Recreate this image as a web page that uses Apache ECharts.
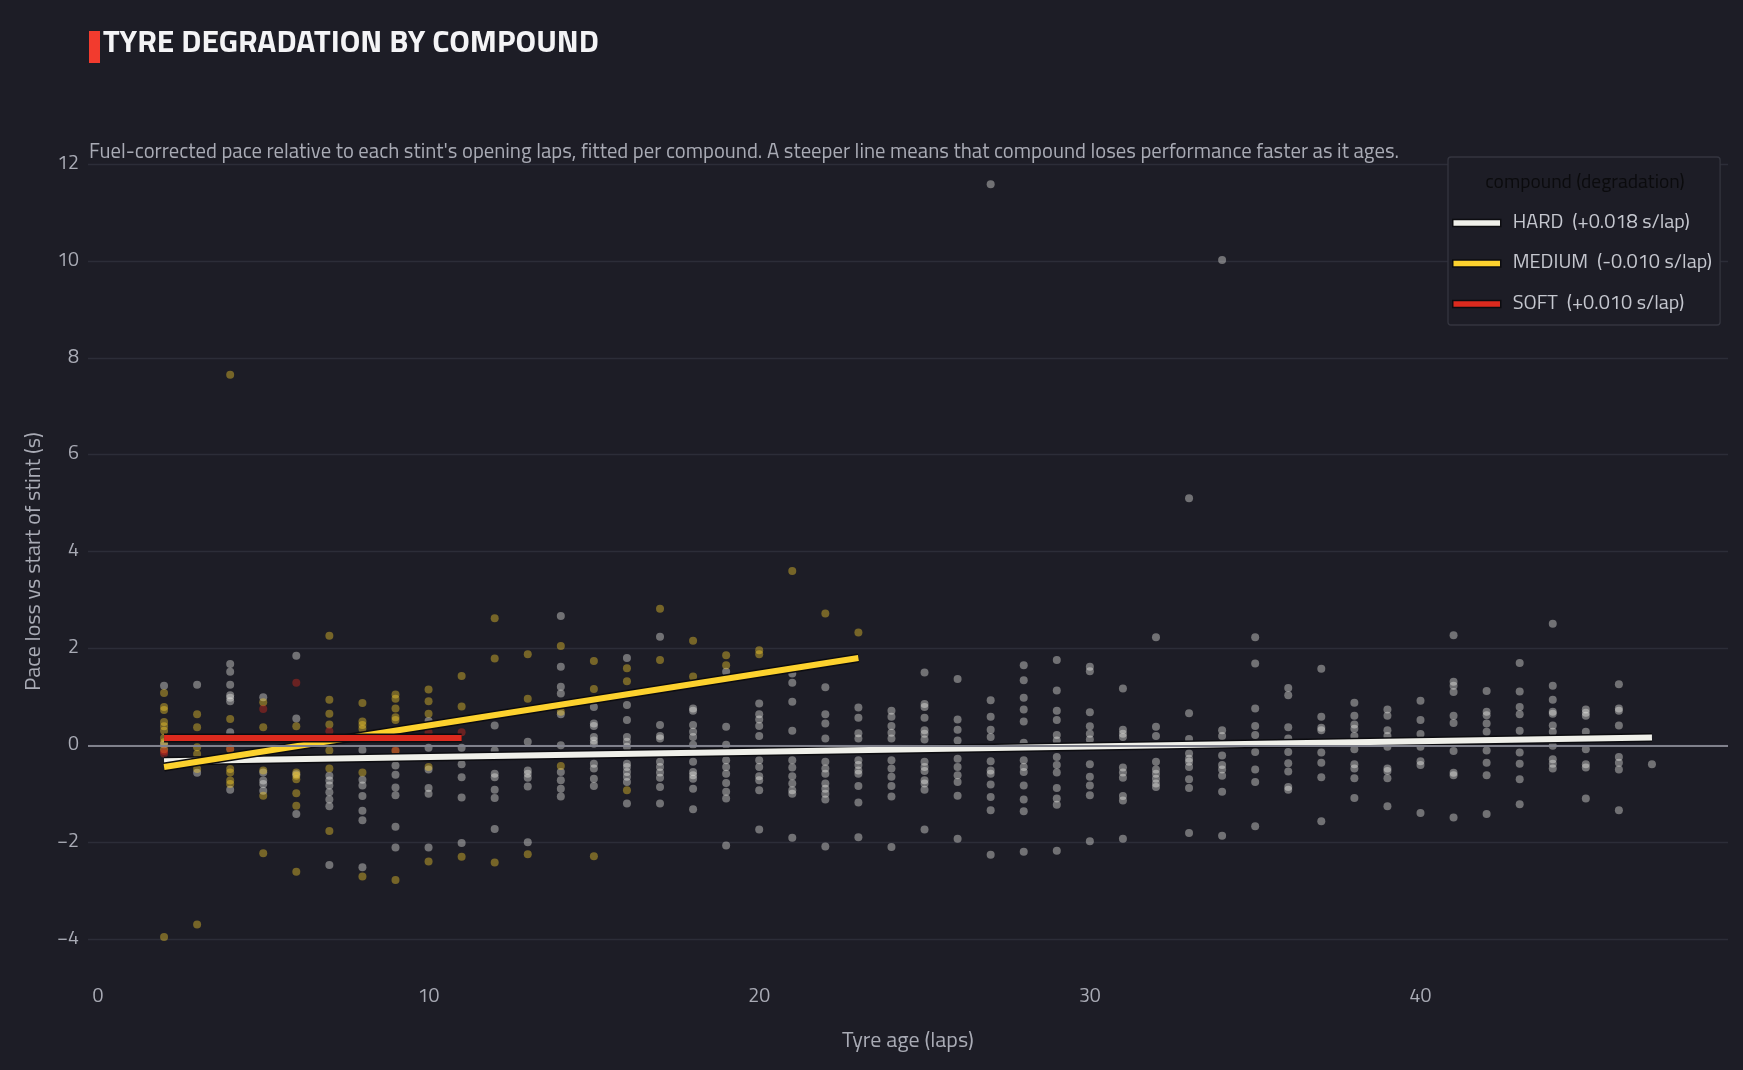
<!DOCTYPE html>
<html>
<head>
<meta charset="utf-8">
<title>Tyre degradation by compound</title>
<script src="https://cdn.jsdelivr.net/npm/echarts@6.0.0/dist/echarts.min.js"></script>
<style>
    html, body { margin: 0; padding: 0; background: #1d1d26; }
    #main { width: 1743px; height: 1070px; }
</style>
</head>
<body>
<div id="main"></div>
<script>
    // compounds + fitted slopes shown in the legend
    var compounds = ['HARD', 'MEDIUM', 'SOFT'];
    var slopeLabels = ['+0.018 s/lap', '-0.010 s/lap', '+0.010 s/lap'];
    var compoundColors = ['#f0f0ea', '#fdd22e', '#dc2a1e'];

    var xTicks = [0, 10, 20, 30, 40];

    // pace loss per tyre age (lap, [values in s])
    var hardPoints = [
        [2, [1.23, 0.02]],
        [3, [1.25, -0.57]],
        [4, [1.68, 1.52, 1.25, 1.03, 0.98, 0.91, 0.27, -0.92]],
        [5, [0.99, -0.56, -0.73, -0.8, -0.94]],
        [6, [1.85, 0.55, -0.6, -1.42]],
        [7, [-0.63, -0.73, -0.83, -0.97, -1.12, -1.26, -2.47]],
        [8, [-0.1, -0.71, -0.83, -1.05, -1.35, -1.55, -2.52]],
        [9, [-0.42, -0.61, -0.87, -1.03, -1.68, -2.11]],
        [10, [0.5, -0.05, -0.5, -0.88, -1.0, -2.11]],
        [11, [-0.05, -0.39, -0.66, -1.08, -2.02]],
        [12, [0.41, -0.11, -0.59, -0.66, -0.92, -1.09, -1.73]],
        [13, [0.07, -0.52, -0.59, -0.67, -0.85, -2.0]],
        [14, [2.67, 1.62, 1.21, 1.07, 0.64, 0, -0.55, -0.72, -0.9, -1.06]],
        [15, [0.79, 0.45, 0.4, 0.17, 0.1, 0.03, -0.38, -0.48, -0.69, -0.84]],
        [16, [1.8, 0.83, 0.52, 0.17, 0.07, -0.03, -0.38, -0.45, -0.55, -0.65, -0.76, -1.2]],
        [17, [2.24, 0.42, 0.19, 0.14, -0.34, -0.45, -0.56, -0.67, -0.86, -1.2]],
        [18, [0.76, 0.71, 0.42, 0.28, 0.17, 0.01, -0.34, -0.55, -0.62, -0.69, -0.9, -1.32]],
        [19, [1.52, 0.38, 0.01, -0.31, -0.45, -0.59, -0.78, -0.96, -1.1, -2.07]],
        [20, [0.86, 0.64, 0.53, 0.4, 0.19, -0.31, -0.45, -0.64, -0.72, -0.93, -1.74]],
        [21, [1.48, 1.29, 0.9, 0.3, -0.31, -0.46, -0.64, -0.79, -0.93, -1.0, -1.91]],
        [22, [1.2, 0.64, 0.45, 0.14, -0.34, -0.48, -0.59, -0.79, -0.9, -1.0, -1.12, -2.09]],
        [23, [0.78, 0.57, 0.25, 0.14, -0.31, -0.41, -0.52, -0.59, -0.84, -1.18, -1.9]],
        [24, [0.71, 0.59, 0.4, 0.26, 0.14, -0.31, -0.48, -0.65, -0.84, -1.06, -2.1]],
        [25, [1.5, 0.85, 0.79, 0.57, 0.31, 0.24, 0.12, -0.34, -0.45, -0.53, -0.72, -0.79, -0.92, -1.74]],
        [26, [1.37, 0.53, 0.32, 0.1, -0.28, -0.45, -0.62, -0.76, -1.04, -1.93]],
        [27, [11.58, 0.93, 0.59, 0.32, 0.17, -0.33, -0.52, -0.59, -0.81, -1.07, -1.34, -2.26]],
        [28, [1.65, 1.34, 0.98, 0.74, 0.49, 0.05, -0.31, -0.45, -0.55, -0.83, -1.12, -1.36, -2.2]],
        [29, [1.76, 1.13, 0.71, 0.52, 0.21, 0.1, -0.24, -0.41, -0.56, -0.88, -1.1, -1.23, -2.18]],
        [30, [1.62, 1.53, 0.68, 0.39, 0.24, 0.12, -0.39, -0.65, -0.83, -1.03, -1.98]],
        [31, [1.17, 0.32, 0.24, 0.17, -0.46, -0.56, -0.67, -1.05, -1.14, -1.93]],
        [32, [2.23, 0.38, 0.19, -0.34, -0.5, -0.59, -0.69, -0.79, -0.86]],
        [33, [5.1, 0.66, 0.13, -0.17, -0.28, -0.34, -0.45, -0.7, -0.88, -1.81]],
        [34, [10.02, 0.31, 0.19, -0.21, -0.41, -0.5, -0.63, -0.96, -1.87]],
        [35, [2.23, 1.69, 0.76, 0.4, 0.21, -0.14, -0.5, -0.76, -1.67]],
        [36, [1.18, 1.03, 0.37, 0.14, -0.14, -0.37, -0.54, -0.86, -0.92]],
        [37, [1.58, 0.59, 0.36, 0.31, -0.15, -0.36, -0.66, -1.57]],
        [38, [0.88, 0.61, 0.43, 0.34, 0.19, -0.08, -0.39, -0.48, -0.68, -1.09]],
        [39, [0.74, 0.61, 0.31, 0.19, -0.03, -0.48, -0.53, -0.68, -1.26]],
        [40, [0.92, 0.52, 0.23, -0.03, -0.33, -0.41, -1.4]],
        [41, [2.27, 1.31, 1.23, 1.1, 0.61, 0.46, -0.12, -0.57, -0.62, -1.49]],
        [42, [1.12, 0.69, 0.62, 0.45, 0.28, -0.11, -0.36, -0.62, -1.42]],
        [43, [1.7, 1.11, 0.79, 0.64, 0.3, -0.15, -0.38, -0.7, -1.22]],
        [44, [2.51, 1.23, 0.94, 0.69, 0.65, 0.41, 0.28, -0.01, -0.29, -0.38, -0.48]],
        [45, [0.74, 0.67, 0.61, 0.28, -0.08, -0.39, -0.46, -1.1]],
        [46, [1.26, 0.76, 0.71, 0.41, -0.24, -0.36, -0.5, -1.34]],
        [47, [-0.39]]
    ];

    var mediumPoints = [
        [2, [1.08, 0.79, 0.73, 0.48, 0.39, 0.3, 0.15, 0.06, -0.08, -3.96]],
        [3, [0.64, 0.37, -0.04, -0.18, -0.49, -3.7]],
        [4, [7.65, 0.54, -0.08, -0.49, -0.56, -0.73, -0.8]],
        [5, [0.89, 0.37, -0.52, -1.04, -2.23]],
        [6, [0.39, -0.56, -0.63, -0.7, -0.99, -1.25, -2.61]],
        [7, [2.26, 0.94, 0.65, 0.43, -0.11, -0.48, -1.77]],
        [8, [0.87, 0.49, 0.42, 0.34, -0.56, -2.71]],
        [9, [1.05, 0.96, 0.76, 0.58, 0.52, -0.12, -2.78]],
        [10, [1.15, 0.91, 0.65, -0.45, -2.4]],
        [11, [1.43, 0.8, -2.3]],
        [12, [2.62, 1.79, -2.42]],
        [13, [1.88, 0.96, -2.25]],
        [14, [2.05, 0.69, -0.43]],
        [15, [1.74, 1.16, -2.29]],
        [16, [1.59, 1.32, -0.93]],
        [17, [2.82, 1.76]],
        [18, [2.16, 1.42]],
        [19, [1.86, 1.65]],
        [20, [1.96, 1.88]],
        [21, [3.6]],
        [22, [2.72]],
        [23, [2.33]]
    ];

    var softPoints = [
        [2, [-0.12, -0.17]],
        [4, [-0.06]],
        [5, [0.75]],
        [6, [1.29, 0.1]],
        [7, [0.29]],
        [9, [-0.1]],
        [10, [0.27]],
        [11, [0.27]]
    ];

    // fitted lines (start / end of each stint range)
    var hardFit = [[2, -0.33], [47, 0.16]];
    var mediumFit = [[2, -0.45], [23, 1.8]];
    var softFit = [[2, 0.15], [11, 0.15]];

    var FONT = '"Titillium Web", "Liberation Sans Narrow", "DejaVu Sans Condensed", Roboto, sans-serif';
    var TEXT = '#a9abb5';

    function flatten(rows) {
        var out = [];
        rows.forEach(function (r) {
            r[1].forEach(function (v) { out.push([r[0], v]); });
        });
        return out;
    }

    function scatter(name, rows, color) {
        return {
            name: name,
            type: 'scatter',
            data: flatten(rows),
            symbolSize: 8,
            clip: false,
            itemStyle: { color: color, opacity: 0.4 },
            z: 2
        };
    }

    function fitLine(name, data, color, z) {
        return [{
            name: name + '_outline',
            type: 'line',
            data: data,
            symbol: 'none',
            silent: true,
            lineStyle: { color: '#0c0c10', width: 9, cap: 'butt' },
            z: z
        }, {
            name: name,
            type: 'line',
            data: data,
            symbol: 'none',
            lineStyle: { color: color, width: 6, cap: 'butt' },
            itemStyle: { color: color, borderColor: '#111', borderWidth: 1 },
            z: z
        }];
    }

    var myChart = echarts.init(document.getElementById('main'));

    var hardScatter = scatter('HARD points', hardPoints, compoundColors[0]);
    // zero line
    hardScatter.markLine = {
        silent: true,
        symbol: 'none',
        label: { show: false },
        lineStyle: { color: '#80818c', width: 2, type: 'solid' },
        data: [{ yAxis: 0 }]
    };

    var series = [
        hardScatter,
        scatter('MEDIUM points', mediumPoints, compoundColors[1]),
        scatter('SOFT points', softPoints, compoundColors[2])
    ]
        .concat(fitLine('HARD', hardFit, compoundColors[0], 3))
        .concat(fitLine('MEDIUM', mediumFit, compoundColors[1], 4))
        .concat(fitLine('SOFT', softFit, compoundColors[2], 5));

    var option = {
        backgroundColor: '#1d1d26',
        animation: false,
        textStyle: { fontFamily: FONT },
        title: [{
            text: 'TYRE DEGRADATION BY COMPOUND',
            left: 98,
            top: 23,
            textStyle: { color: '#f4f4f6', fontSize: 31.6, fontWeight: 'bold', fontFamily: FONT }
        }, {
            text: "Fuel-corrected pace relative to each stint's opening laps, fitted per compound. A steeper line means that compound loses performance faster as it ages.",
            left: 84,
            top: 137,
            textStyle: { color: '#a9abb5', fontSize: 20.7, fontWeight: 'normal', fontFamily: FONT }
        }, {
            text: 'compound (degradation)',
            left: 1580,
            top: 168,
            textAlign: 'center',
            textStyle: { color: '#0b0b0d', fontSize: 19.5, fontWeight: 'normal', fontFamily: FONT }
        }],
        graphic: [{
            type: 'rect',
            shape: { x: 89, y: 31, width: 11, height: 32 },
            style: { fill: '#f23b2e' }
        }],
        legend: {
            data: compounds,
            orient: 'vertical',
            left: 1448,
            top: 157,
            padding: [55, 8, 10, 4],
            itemGap: 18.5,
            itemWidth: 48,
            itemHeight: 7,
            icon: 'rect',
            backgroundColor: '#1d1d26',
            borderColor: '#34353f',
            borderWidth: 1.3,
            borderRadius: 3,
            selectedMode: false,
            itemStyle: { borderColor: '#0c0c10', borderWidth: 1.5 },
            textStyle: { color: '#c5c7cf', fontSize: 20, lineHeight: 22, padding: [0, 0, 0, 7], fontFamily: FONT },
            formatter: function (name) {
                return name + '  (' + slopeLabels[compounds.indexOf(name)] + ')';
            }
        },
        grid: {
            left: 88,
            right: 15,
            top: 164,
            bottom: 131,
            containLabel: false
        },
        xAxis: {
            type: 'value',
            min: -0.3,
            max: 49.3,
            name: 'Tyre age (laps)',
            nameLocation: 'middle',
            nameGap: 92,
            nameTextStyle: { color: TEXT, fontSize: 22, fontFamily: FONT },
            axisLine: { show: false },
            axisTick: { show: false },
            splitLine: { show: false },
            axisLabel: {
                customValues: xTicks,
                color: TEXT,
                fontSize: 19.5,
                margin: 48,
                fontFamily: FONT
            }
        },
        yAxis: {
            type: 'value',
            min: -4,
            max: 12,
            interval: 2,
            name: 'Pace loss vs start of stint (s)',
            nameLocation: 'middle',
            nameGap: 42,
            nameTextStyle: { color: TEXT, fontSize: 22, fontFamily: FONT, padding: [0, 20, 0, 0] },
            axisLine: { show: false },
            axisTick: { show: false },
            splitLine: { lineStyle: { color: '#2c2d38', width: 1.3 } },
            axisLabel: {
                color: TEXT,
                fontSize: 19.5,
                margin: 9,
                fontFamily: FONT,
                formatter: function (v) {
                    return v < 0 ? '\u2212' + Math.abs(v) : String(v);
                }
            }
        },
        series: series
    };

    myChart.setOption(option);
</script>
</body>
</html>
